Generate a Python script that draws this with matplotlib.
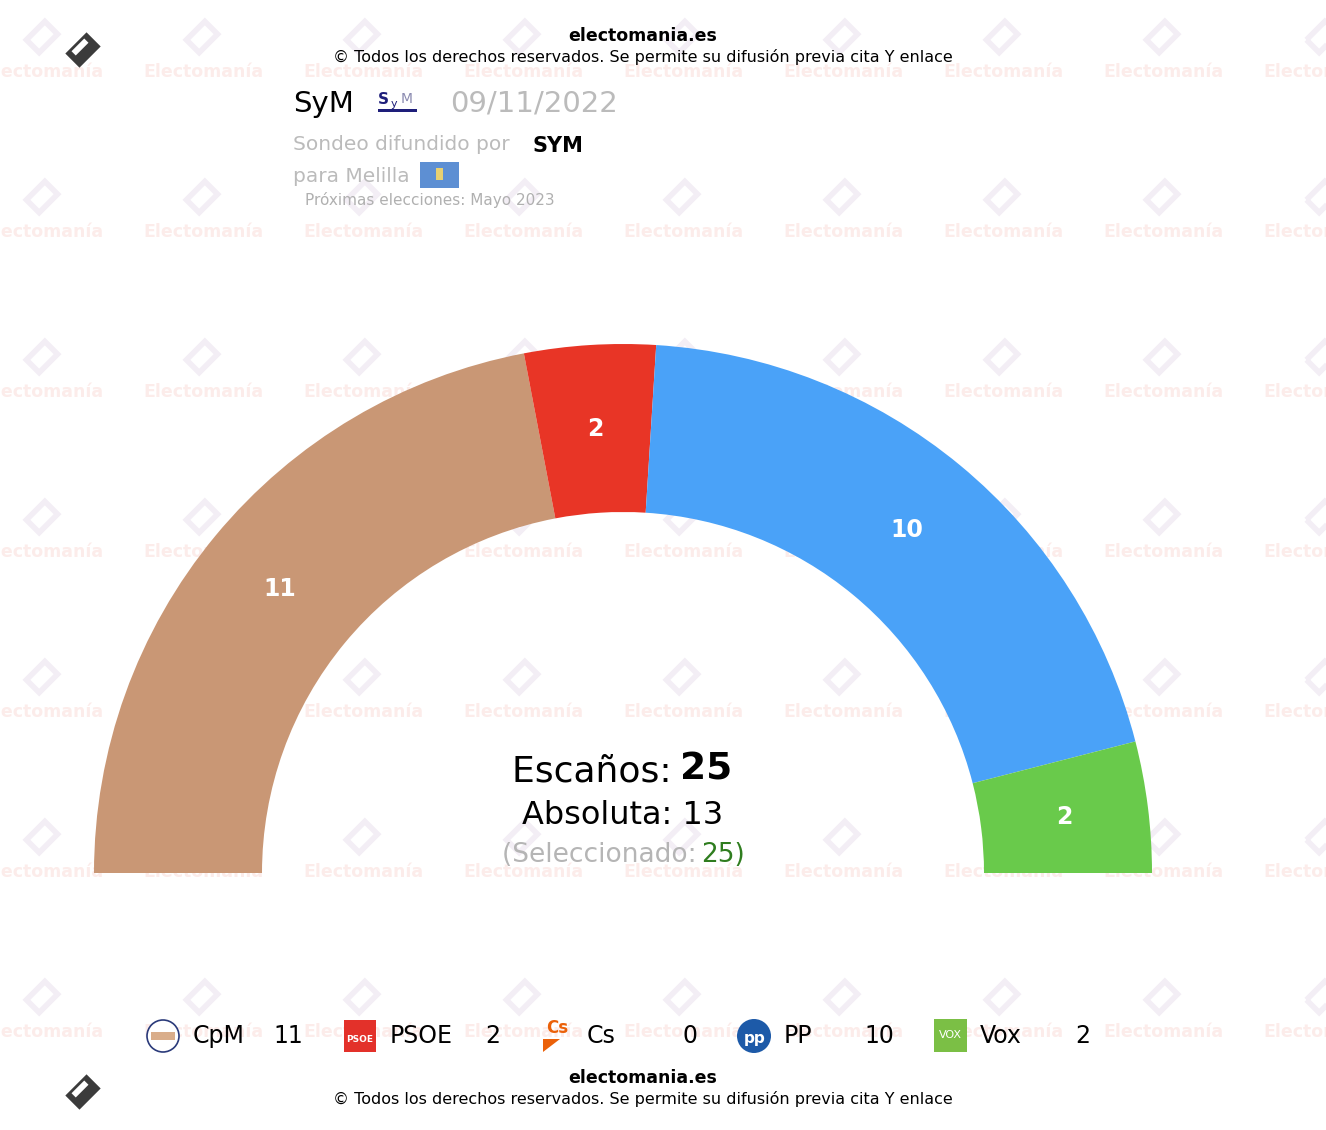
import numpy as np
import matplotlib.pyplot as plt
from matplotlib.patches import Wedge, Polygon, Rectangle, Circle

# datos del sondeo
partidos = ['CpM', 'PSOE', 'Cs', 'PP', 'Vox']
escanos = [11, 2, 0, 10, 2]
colores = ['#C99775', '#E83526', '#EB6109', '#4AA2F8', '#69CA4B']
total = 25
absoluta = 13
fecha = '09/11/2022'

W, H = 1326, 1130
fig = plt.figure(figsize=(W / 100, H / 100), dpi=100)
ax = fig.add_axes([0, 0, 1, 1])
ax.set_xlim(0, W)
ax.set_ylim(H, 0)
ax.axis('off')


def rot(pts, cx, cy, ang):
    a = np.deg2rad(ang)
    c, s = np.cos(a), np.sin(a)
    return [(cx + x * c - y * s, cy + x * s + y * c) for x, y in pts]


# marca de agua
for j in range(7):
    for i in range(9):
        x0 = 42 + 160 * i
        y0 = 37 + 160 * j
        d = rot([(-13, -9), (13, -9), (13, 9), (-13, 9)], x0, y0, -45)
        ax.add_patch(Polygon(d, closed=True, fill=False, ec='#f3eef5', lw=4, zorder=0))
        ax.text(x0 + 1, y0 + 35, 'Electomanía', fontsize=12.5, fontweight='bold',
                color='#fcecea', ha='center', va='center', zorder=0)

# logos oscuros
for ly in (50, 1092):
    d = rot([(-15, -10), (15, -10), (15, 10), (-15, 10)], 83, ly, -45)
    ax.add_patch(Polygon(d, closed=True, fc='#3b3b3b', ec='none', zorder=3))
    d2 = rot([(-9, -3), (9, -3), (9, 3), (-9, 3)], 80, ly - 3, -45)
    ax.add_patch(Polygon(d2, closed=True, fc='white', ec='none', zorder=4))

# hemiciclo
cx, cy = 623, 873
r_out, r_in = 529, 361
paso = 180 / total
ang = -180
for p, n, c in zip(partidos, escanos, colores):
    if n == 0:
        continue
    t2 = ang + n * paso
    ax.add_patch(Wedge((cx, cy), r_out, ang, t2, width=r_out - r_in, fc=c, ec='none', zorder=2))
    tm = np.deg2rad((ang + t2) / 2)
    rm = (r_out + r_in) / 2
    ax.text(cx + rm * np.cos(tm), cy + rm * np.sin(tm), str(n), color='white', fontsize=17,
            fontweight='bold', ha='center', va='center', zorder=3)
    ang = t2

# textos centrales
ax.text(512, 772, 'Escaños: ', fontsize=26, ha='left', va='center', zorder=3)
ax.text(680, 770, str(total), fontsize=27, fontweight='bold', ha='left', va='center', zorder=3)
ax.text(623, 815, f'Absoluta: {absoluta}', fontsize=23, ha='center', va='center', zorder=3)
ax.text(502, 855, '(Seleccionado: ', fontsize=19, color='#b5b5b5', ha='left', va='center', zorder=3)
ax.text(701, 855, f'{total})', fontsize=19, color='#2f7d1f', ha='left', va='center', zorder=3)

# cabecera
for yy in (36, 1078):
    ax.text(643, yy, 'electomania.es', fontsize=12.5, fontweight='bold', ha='center', va='center', zorder=3)
    ax.text(643, yy + 21, '© Todos los derechos reservados. Se permite su difusión previa cita Y enlace',
            fontsize=11.5, ha='center', va='center', zorder=3)

ax.text(293, 104, 'SyM', fontsize=21, ha='left', va='center', zorder=3)
ax.text(378, 100, 'S', fontsize=11, fontweight='bold', color='#1e1e7a', ha='left', va='center', zorder=3)
ax.text(391, 104, 'y', fontsize=8, color='#1e1e7a', ha='left', va='center', zorder=3)
ax.text(401, 99, 'M', fontsize=10, color='#8a8ab0', ha='left', va='center', zorder=3)
ax.add_patch(Rectangle((378, 109), 39, 3, fc='#1e1e7a', ec='none', zorder=3))
ax.text(450, 104, fecha, fontsize=21, color='#bbbbbb', ha='left', va='center', zorder=3)
ax.text(293, 145, 'Sondeo difundido por', fontsize=14.5, color='#bbbbbb', ha='left', va='center', zorder=3)
ax.text(532, 146, 'SYM', fontsize=15, fontweight='bold', ha='left', va='center', zorder=3)
ax.text(293, 177, 'para Melilla', fontsize=14.5, color='#bbbbbb', ha='left', va='center', zorder=3)
ax.add_patch(Rectangle((420, 162), 39, 26, fc='#5d8fd3', ec='none', zorder=3))
ax.add_patch(Rectangle((436, 168), 7, 12, fc='#e8d070', ec='none', zorder=4))
ax.text(305, 200, 'Próximas elecciones: Mayo 2023', fontsize=11, color='#b0b0b0', ha='left', va='center', zorder=3)

# leyenda
ly = 1036
xs = [163, 360, 557, 754, 950]
for p, n, x in zip(partidos, escanos, xs):
    ax.text(x + 30, ly, p, fontsize=17, ha='left', va='center', zorder=3)
    ax.text(x + 140, ly, str(n), fontsize=17, ha='right', va='center', zorder=3)

ax.add_patch(Circle((163, ly), 16, fc='white', ec='#2a3a7a', lw=1.2, zorder=3))
ax.add_patch(Rectangle((151, ly - 4), 24, 8, fc='#d9ad8a', ec='none', zorder=4))
ax.add_patch(Rectangle((344, ly - 16), 32, 32, fc='#e3312a', ec='none', zorder=3))
ax.text(360, ly + 3, 'PSOE', fontsize=6.5, fontweight='bold', color='white', ha='center', va='center', zorder=4)
ax.text(557, ly - 8, 'Cs', fontsize=12, fontweight='bold', color='#eb6109', ha='center', va='center', zorder=3)
ax.add_patch(Polygon([(543, ly + 3), (560, ly + 3), (543, ly + 16)], closed=True, fc='#eb6109', ec='none', zorder=3))
ax.add_patch(Circle((754, ly), 17, fc='#1d5aa8', ec='none', zorder=3))
ax.text(755, ly + 2, 'pp', fontsize=11, fontweight='bold', color='white', ha='center', va='center', zorder=4)
ax.add_patch(Rectangle((934, ly - 17), 33, 33, fc='#7bbf45', ec='none', zorder=3))
ax.text(950, ly - 1, 'VOX', fontsize=8, color='white', ha='center', va='center', zorder=4)

fig.savefig('out.png', dpi=100)
